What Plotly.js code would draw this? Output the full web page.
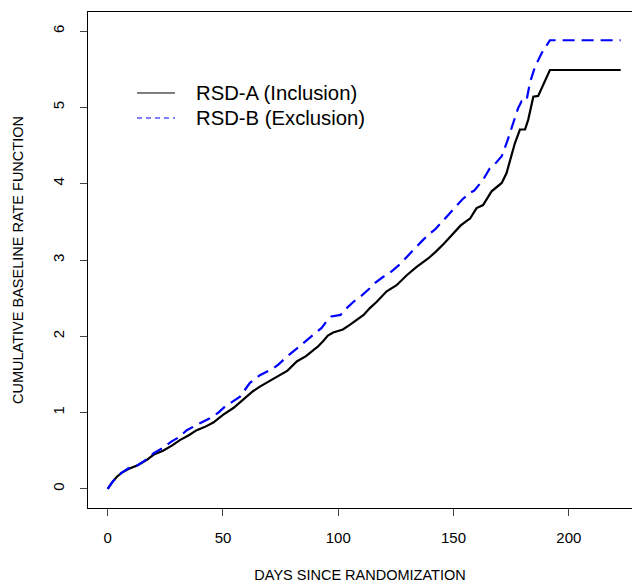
<!DOCTYPE html>
<html>
<head>
<meta charset="utf-8">
<script src="https://cdn.plot.ly/plotly-3.0.1.min.js"></script>
<style>html,body{margin:0;padding:0;background:#fff;}#chart{width:632px;height:586px;}</style>
</head>
<body>
<div id="chart"></div>
<script>
// Series A: RSD-A (Inclusion)
var daysA = [0, 2, 4, 6, 9, 13, 17, 20, 24, 28, 31.3, 35, 38.6, 42, 45.8, 50, 54.5, 58, 60.3, 63, 66, 70, 74.7, 78, 82, 86, 89.2, 91, 93.5, 95.5, 97.8, 100, 102, 105, 108, 111, 113.7, 116.6, 121, 125.3, 129.7, 134, 139, 142, 146, 150, 153, 156, 157.1, 160, 162.8, 166.5, 170.9, 173, 174.5, 176.6, 178.8, 181, 182.4, 184.6, 186.7, 191.8, 222.5];
var rateA = [0, 0.09, 0.16, 0.21, 0.26, 0.31, 0.38, 0.45, 0.50, 0.57, 0.64, 0.70, 0.77, 0.81, 0.87, 0.97, 1.06, 1.15, 1.22, 1.28, 1.34, 1.41, 1.49, 1.55, 1.67, 1.74, 1.82, 1.86, 1.94, 2.01, 2.05, 2.07, 2.09, 2.15, 2.21, 2.28, 2.37, 2.45, 2.59, 2.67, 2.80, 2.91, 3.02, 3.10, 3.22, 3.35, 3.45, 3.52, 3.54, 3.68, 3.72, 3.90, 4.01, 4.14, 4.29, 4.53, 4.71, 4.71, 4.84, 5.14, 5.15, 5.49, 5.49];
// Series B: RSD-B (Exclusion)
var daysB = [0, 2, 4, 6, 9, 13, 17, 20, 24, 27.6, 31, 34.3, 40, 45.8, 48, 51.6, 54, 57.4, 61.7, 66, 71.8, 74, 77.6, 82, 84.5, 87.7, 90, 92.8, 95, 97, 101, 103, 106.5, 110, 113.7, 116, 119.5, 121, 123.9, 127, 129.7, 134, 137, 139.8, 142, 145, 148.4, 151, 154, 157.1, 159, 162.8, 165.7, 168, 170.9, 173, 175.9, 178, 179.5, 181.6, 183.1, 185.3, 188.2, 191.8, 222.5];
var rateB = [0, 0.09, 0.16, 0.21, 0.27, 0.31, 0.39, 0.47, 0.54, 0.62, 0.68, 0.77, 0.86, 0.95, 1.00, 1.10, 1.14, 1.21, 1.39, 1.49, 1.58, 1.63, 1.73, 1.84, 1.90, 1.98, 2.05, 2.11, 2.20, 2.26, 2.28, 2.35, 2.45, 2.53, 2.63, 2.70, 2.78, 2.80, 2.87, 2.95, 3.04, 3.18, 3.27, 3.35, 3.40, 3.50, 3.61, 3.70, 3.80, 3.88, 3.91, 4.05, 4.20, 4.26, 4.36, 4.53, 4.79, 4.99, 5.08, 5.08, 5.32, 5.53, 5.71, 5.88, 5.88];
// Tick labels
var xTicks = [0, 50, 100, 150, 200];
var yTicks = [0, 1, 2, 3, 4, 5, 6];
var seriesNames = ["RSD-A (Inclusion)", "RSD-B (Exclusion)"];

var FONT = "Liberation Sans, Arial, Helvetica, sans-serif";

var traces = [
  {x: daysA, y: rateA, type: "scatter", mode: "lines", name: seriesNames[0],
   line: {color: "#000000", width: 2.2}, showlegend: false, hoverinfo: "skip"},
  {x: daysB, y: rateB, type: "scatter", mode: "lines", name: seriesNames[1],
   line: {color: "#0000FF", width: 2.2, dash: "12px,7px"}, showlegend: false, hoverinfo: "skip"}
];

var layout = {
  width: 632, height: 586,
  margin: {l: 88, r: 0, t: 12, b: 78},
  paper_bgcolor: "#ffffff", plot_bgcolor: "#ffffff",
  font: {family: FONT, size: 15, color: "#000"},
  showlegend: false,
  xaxis: {
    range: [-8.54, 227.4], tickvals: xTicks, ticktext: xTicks.map(String),
    ticks: "outside", ticklen: 7, tickwidth: 1, tickcolor: "#444",
    showline: true, linecolor: "#000", linewidth: 1, mirror: true,
    showgrid: false, zeroline: false,
    tickfont: {family: FONT, size: 15, color: "#000"},
    ticklabelstandoff: 9,
    title: {text: "DAYS SINCE RANDOMIZATION", font: {family: FONT, size: 14.5, color: "#000"}, standoff: 24}
  },
  yaxis: {
    range: [-0.25, 6.25], tickvals: yTicks, ticktext: yTicks.map(String),
    ticks: "outside", ticklen: 7, tickwidth: 1, tickcolor: "#444",
    showline: true, linecolor: "#000", linewidth: 1, mirror: true,
    showgrid: false, zeroline: false, tickangle: -90,
    tickfont: {family: FONT, size: 15, color: "#000"},
    ticklabelstandoff: 10,
    title: {text: "CUMULATIVE BASELINE RATE FUNCTION", font: {family: FONT, size: 14.5, color: "#000"}, standoff: 22}
  },
  shapes: [
    {type: "line", xref: "paper", yref: "paper", x0: 0.0901, x1: 0.1599, y0: 0.8367, y1: 0.8367,
     line: {color: "#000", width: 1}},
    {type: "line", xref: "paper", yref: "paper", x0: 0.0901, x1: 0.1599, y0: 0.7863, y1: 0.7863,
     line: {color: "#0000FF", width: 1, dash: "5px,4px"}}
  ],
  annotations: [
    {text: seriesNames[0], xref: "paper", yref: "paper", x: 0.1949, y: 0.8367, xanchor: "left", yanchor: "middle",
     showarrow: false, font: {family: FONT, size: 20.3, color: "#000"}},
    {text: seriesNames[1], xref: "paper", yref: "paper", x: 0.1949, y: 0.7863, xanchor: "left", yanchor: "middle",
     showarrow: false, font: {family: FONT, size: 20.3, color: "#000"}}
  ]
};

Plotly.newPlot("chart", traces, layout, {staticPlot: true, displayModeBar: false});
</script>
</body>
</html>
